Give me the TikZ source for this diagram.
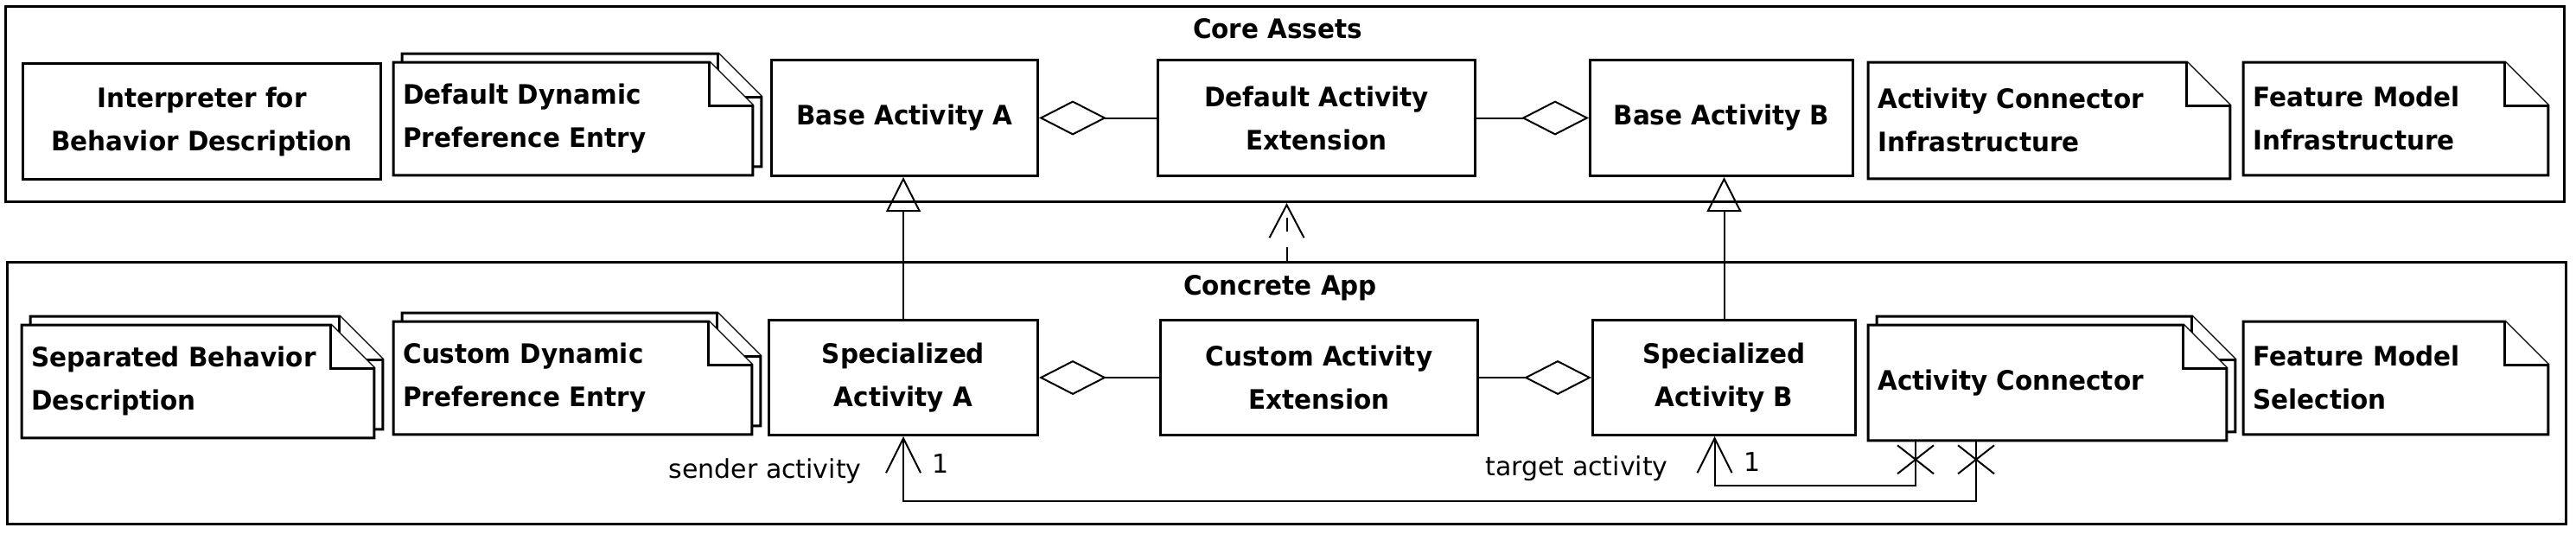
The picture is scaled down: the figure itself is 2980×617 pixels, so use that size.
\documentclass[tikz,border=0pt]{standalone}
\usepackage{fontspec}
\setmainfont{DejaVu Sans}[BoldFeatures={FakeStretch=0.95}]
\usetikzlibrary{arrows.meta,shapes.misc,backgrounds}
\newcommand{\fold}{25pt}
\newcommand{\noteline}[2][0pt]{%
  \draw[noteedge] ([shift={(#1,#1)}]#2.north west) -- ([shift={(#1-\fold,#1)}]#2.north east)
    -- ([shift={(#1,#1-\fold)}]#2.north east) -- ([shift={(#1,#1)}]#2.south east)
    -- ([shift={(#1,#1)}]#2.south west) -- cycle;
  \draw[noteedge] ([shift={(#1-\fold,#1)}]#2.north east) |- ([shift={(#1,#1-\fold)}]#2.north east);}
\begin{document}
\begin{tikzpicture}[x=0.5pt,y=-0.5pt,
  every node/.style={inner sep=0pt,font=\fontsize{15}{25}\selectfont},
  frame/.style={draw,line width=1.5pt,anchor=north west},
  title/.style={font=\fontsize{15.5}{25}\selectfont\bfseries},
  cls/.style 2 args={draw,line width=1.5pt,anchor=north west,minimum width=#1,minimum height=#2,
    align=center,font=\fontsize{15.5}{25}\selectfont\bfseries},
  note/.style 2 args={anchor=north west,inner xsep=5.5pt,text width=#1,minimum height=#2,
    align=left,font=\fontsize{15.5}{25}\selectfont\bfseries},
  noteedge/.style={draw,fill=white,line width=1.5pt},
  link/.style={line width=1pt},
  aggr/.style={link,{Diamond[open,length=39pt,width=20pt]}-},
  gen/.style={link,-{Triangle[open,length=20pt,width=20pt]}},
  real/.style={link,dash pattern=on 8pt off 9pt,-{Straight Barb[length=19pt,width=20pt]}},
  nav/.style={link,-{Straight Barb[length=20pt,width=20pt]}},
  xmark/.style={cross out,draw,line width=1pt,minimum width=20pt,minimum height=15.5pt},
  role/.style={anchor=east}]
\useasboundingbox (0,0) rectangle (2980,617);
\node[frame,minimum width=1480pt,minimum height=113pt] (core) at (5,6) {};
\node[title] (coreT) at (1478,33) {Core Assets};
\node[cls={207pt}{67pt}] (interp) at (25,72) {Interpreter for\\Behavior Description};
\node[note={196.5pt}{65pt}] (ddpe) at (455,72) {Default Dynamic\\Preference Entry};
\node[cls={154pt}{67pt}] (baseA) at (891,68) {Base Activity A};
\node[cls={183.5pt}{67pt}] (dae) at (1338,68) {Default Activity\\Extension};
\node[cls={152pt}{67pt}] (baseB) at (1838,68) {Base Activity B};
\node[note={198pt}{67pt}] (aci) at (2161,72) {Activity Connector\\Infrastructure};
\node[note={165pt}{65pt}] (fmi) at (2595,72) {Feature Model\\Infrastructure};

\node[frame,minimum width=1480pt,minimum height=151.5pt] (concrete) at (7,302) {};
\node[title] (concreteT) at (1481,333) {Concrete App};
\node[note={192.5pt}{65pt}] (sbd) at (25,376) {Separated Behavior\\Description};
\node[note={196pt}{65pt}] (cdpe) at (455,372) {Custom Dynamic\\Preference Entry};
\node[cls={155.5pt}{66.5pt}] (specA) at (888,369) {Specialized\\Activity A};
\node[cls={183.5pt}{66.5pt}] (cae) at (1341,369) {Custom Activity\\Extension};
\node[cls={152pt}{66.5pt}] (specB) at (1841,369) {Specialized\\Activity B};
\node[note={196pt}{66.5pt}] (ac) at (2161,376) {Activity Connector};
\node[note={165pt}{65pt}] (fms) at (2595,372) {Feature Model\\Selection};

\begin{pgfonlayer}{background}
\noteline[5pt]{ddpe} \noteline{ddpe}
\noteline{aci} \noteline{fmi}
\noteline[5pt]{sbd} \noteline{sbd}
\noteline[5pt]{cdpe} \noteline{cdpe}
\noteline[5pt]{ac} \noteline{ac}
\noteline{fms}
\end{pgfonlayer}

\draw[aggr] (baseA) -- (dae);
\draw[aggr] (baseB) -- (dae);
\draw[aggr] (specA) -- (cae);
\draw[aggr] (specB) -- (cae);
\draw[gen] (specA.north) -- (specA.north |- baseA.south);
\draw[gen] (specB.north) -- (specB.north |- baseB.south);
\draw[real] (concrete.north) -- (concrete.north |- core.south);

\coordinate (acT) at ([xshift=27.5pt]ac.south west);
\coordinate (acS) at ([xshift=62.5pt]ac.south west);
\draw[nav] (acS) -- ++(0,70) -| (specA.south);
\draw[nav] (acT) -- ++(0,52) -| ([xshift=-5.5pt]specB.south);
\node[xmark] (xS) at ([yshift=-11pt]acS) {};
\node[xmark] (xT) at ([yshift=-11pt]acT) {};
\node[anchor=west] (multA) at (1078,537) {1};
\node[role] (sendR) at (997,545) {sender activity};
\node[anchor=west] (multB) at (2017,535) {1};
\node[role] (targR) at (1930,542) {target activity};
\end{tikzpicture}
\end{document}
